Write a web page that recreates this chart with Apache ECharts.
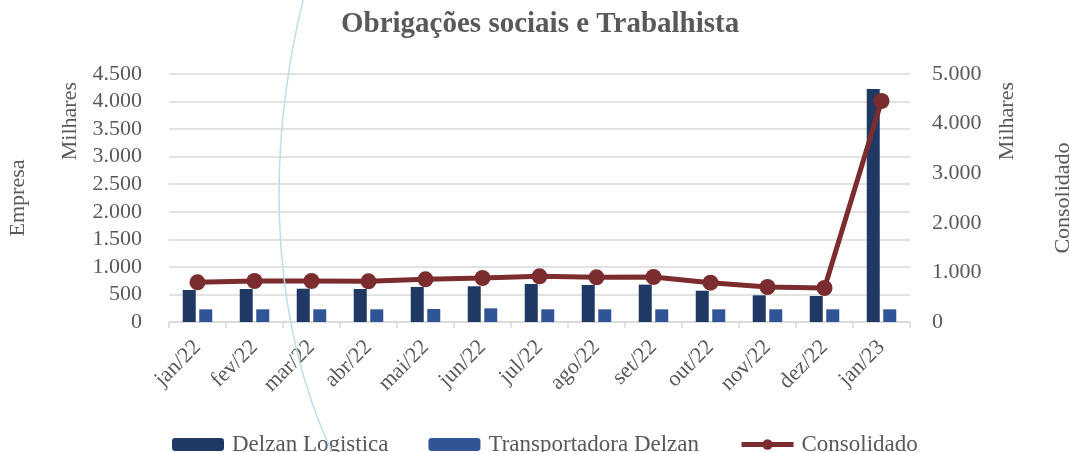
<!DOCTYPE html>
<html>
<head>
<meta charset="utf-8">
<script src="https://cdn.jsdelivr.net/npm/echarts@6/dist/echarts.min.js"></script>
<style>
  html, body { margin: 0; padding: 0; background: #fff; }
  #chart { width: 1070px; height: 452px; }
</style>
</head>
<body>
<div id="chart"></div>
<script>
// values in thousands
const categories = ['jan/22', 'fev/22', 'mar/22', 'abr/22', 'mai/22', 'jun/22', 'jul/22',
    'ago/22', 'set/22', 'out/22', 'nov/22', 'dez/22', 'jan/23']
const delzanLogistica = [581, 599, 604, 599, 635, 648, 690, 672, 678, 568, 484, 472, 4228]
const transportadoraDelzan = [230, 230, 230, 230, 236, 248, 230, 230, 230, 230, 230, 230, 230]
const consolidado = [800, 827, 827, 820, 861, 887, 921, 901, 907, 793, 706, 685, 4456]

const textColor = '#595959'
const fontFamily = '"Liberation Serif", "DejaVu Serif", serif'

function fmt(v) {
    return String(v).replace(/\B(?=(\d{3})+(?!\d))/g, '.')
}

let chart = echarts.init(document.getElementById('chart'))

chart.setOption({
    animation: false,
    textStyle: { fontFamily: fontFamily, color: textColor },
    title: {
        text: 'Obrigações sociais e Trabalhista',
        left: 336,
        top: 5,
        textStyle: { fontFamily: fontFamily, color: textColor, fontSize: 29, fontWeight: 'bold' }
    },
    legend: {
        bottom: -9,
        left: 167,
        itemWidth: 52,
        itemHeight: 13,
        itemGap: 40,
        textStyle: { fontFamily: fontFamily, color: textColor, fontSize: 23, padding: [0, 0, 0, 3] },
        data: [
            'Delzan Logistica',
            'Transportadora Delzan',
            { name: 'Consolidado', lineStyle: { width: 5 }, itemStyle: { color: '#7b2c2f' } }
        ]
    },
    grid: { left: 169, right: 160, top: 74, bottom: 130, outerBoundsMode: 'none', containLabel: false },
    xAxis: {
        type: 'category',
        data: categories,
        axisLine: { lineStyle: { color: '#d9d9d9', width: 1.5 } },
        axisTick: { show: true, length: 6, lineStyle: { color: '#d9d9d9', width: 1.5 } },
        axisLabel: {
            rotate: 45,
            margin: 22,
            color: textColor,
            fontFamily: fontFamily,
            fontSize: 22
        }
    },
    yAxis: [
        {
            type: 'value',
            min: 0,
            max: 4500,
            interval: 500,
            name: 'Empresa',
            nameLocation: 'middle',
            nameRotate: 90,
            nameGap: 140,
            nameTextStyle: { fontFamily: fontFamily, color: textColor, fontSize: 22 },
            axisLine: { show: false },
            axisTick: { show: false },
            splitLine: { lineStyle: { color: '#d9d9d9', width: 1.5 } },
            axisLabel: {
                margin: 27,
                color: textColor,
                fontFamily: fontFamily,
                fontSize: 22,
                formatter: fmt
            }
        },
        {
            type: 'value',
            min: 0,
            max: 5000,
            interval: 1000,
            name: 'Consolidado',
            nameLocation: 'middle',
            nameRotate: 90,
            nameGap: 142,
            nameTextStyle: { fontFamily: fontFamily, color: textColor, fontSize: 22 },
            axisLine: { show: false },
            axisTick: { show: false },
            splitLine: { show: false },
            axisLabel: {
                margin: 22,
                color: textColor,
                fontFamily: fontFamily,
                fontSize: 22,
                formatter: fmt
            }
        }
    ],
    graphic: [
        {
            type: 'text',
            left: 59,
            top: 82,
            rotation: Math.PI / 2,
            style: { text: 'Milhares', fontFamily: fontFamily, fontSize: 22, fill: textColor }
        },
        {
            type: 'text',
            left: 996,
            top: 82,
            rotation: Math.PI / 2,
            style: { text: 'Milhares', fontFamily: fontFamily, fontSize: 22, fill: textColor }
        },
        {
            type: 'bezierCurve',
            silent: true,
            z: 100,
            shape: { x1: 303, y1: 0, cpx1: 262, cpy1: 170, cpx2: 275, cpy2: 330, x2: 332, y2: 452 },
            style: { stroke: '#bcdde9', lineWidth: 1.5, fill: null }
        }
    ],
    series: [
        {
            name: 'Delzan Logistica',
            type: 'bar',
            yAxisIndex: 0,
            barWidth: 13,
            barGap: '27%',
            itemStyle: { color: '#1f3864' },
            data: delzanLogistica
        },
        {
            name: 'Transportadora Delzan',
            type: 'bar',
            yAxisIndex: 0,
            barWidth: 13,
            barGap: '27%',
            itemStyle: { color: '#2f5597' },
            data: transportadoraDelzan
        },
        {
            name: 'Consolidado',
            type: 'line',
            yAxisIndex: 1,
            symbol: 'circle',
            symbolSize: 16,
            lineStyle: { color: '#7b2c2f', width: 5 },
            itemStyle: { color: '#7b2c2f' },
            data: consolidado
        }
    ]
})
</script>
</body>
</html>
